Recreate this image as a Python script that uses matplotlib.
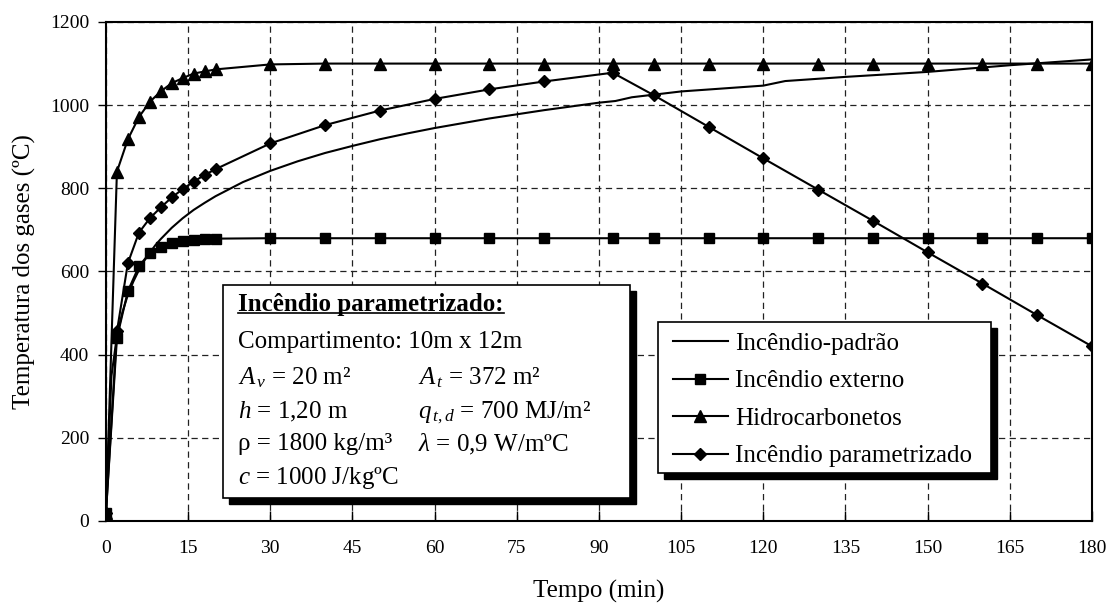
import matplotlib
matplotlib.use("Agg")
import matplotlib.pyplot as plt
from matplotlib.patches import Rectangle
from matplotlib.lines import Line2D
from matplotlib.transforms import offset_copy, IdentityTransform

plt.rcParams["font.family"] = ["Liberation Serif", "DejaVu Serif"]
plt.rcParams["mathtext.fontset"] = "custom"
plt.rcParams["mathtext.rm"] = "Liberation Serif"
plt.rcParams["mathtext.it"] = "Liberation Serif:italic"
plt.rcParams["mathtext.bf"] = "Liberation Serif:bold"

# Curva padrão (sem marcadores)
t_padrao = [0, 1, 2, 3, 4, 5, 6, 7, 8, 9, 10, 12, 14, 16, 18, 20, 25, 30, 35, 40,
            45, 50, 55, 60, 70, 80, 90, 93, 96, 105, 120, 124, 135, 150, 165, 180]
T_padrao = [20, 349, 445, 502, 544, 576, 603, 626, 645, 663, 678, 705, 728, 748, 765,
            781, 815, 842, 865, 885, 902, 918, 932, 945, 968, 988, 1006, 1010, 1019,
            1033, 1047, 1058, 1068, 1080, 1096, 1110]

# Instantes com marcadores
t_min = [0, 2, 4, 6, 8, 10, 12, 14, 16, 18, 20, 30, 40, 50, 60, 70, 80, 92.5,
         100, 110, 120, 130, 140, 150, 160, 170, 180]
T_externo = [20, 440, 553, 612, 645, 660, 668, 673, 676, 678, 679, 680, 680, 680,
             680, 680, 680, 680, 680, 680, 680, 680, 680, 680, 680, 680, 680]
T_hidro = [20, 840, 918, 971, 1008, 1033, 1053, 1065, 1076, 1081, 1086, 1098, 1100,
           1100, 1100, 1100, 1100, 1100, 1100, 1100, 1100, 1100, 1100, 1100, 1100,
           1100, 1100]
T_param = [20, 456, 620, 693, 728, 754, 778, 798, 816, 832, 846, 908, 952, 987, 1015,
           1038, 1057, 1078, 1024, 948, 872, 797, 722, 646, 571, 495, 420]

nomes = ["Incêndio-padrão", "Incêndio externo", "Hidrocarbonetos",
         "Incêndio parametrizado"]
x_ticks = list(range(0, 181, 15))
y_ticks = list(range(0, 1201, 200))

fig = plt.figure(figsize=(11.12, 6.06), dpi=100)
ax = fig.add_axes([0.0953, 0.1403, 0.8867, 0.8234])

lw = 1.5
ax.plot(t_padrao, T_padrao, color="black", lw=lw, label=nomes[0], zorder=3)
ax.plot(t_min, T_externo, color="black", lw=lw, marker="s", ms=7, label=nomes[1], zorder=3)
ax.plot(t_min, T_hidro, color="black", lw=lw, marker="^", ms=8.5, label=nomes[2], zorder=3)
ax.plot(t_min, T_param, color="black", lw=lw, marker="D", ms=6.5, label=nomes[3], zorder=3)

ax.set_xlim(0, 180)
ax.set_ylim(0, 1200)
ax.set_xticks(x_ticks)
ax.set_yticks(y_ticks)
ax.tick_params(axis="x", direction="in", length=7, width=1, labelsize=14, pad=14)
ax.tick_params(axis="y", direction="out", length=6, width=1, labelsize=14, pad=6)
for s in ax.spines.values():
    s.set_linewidth(1.5)
ax.grid(True, color="#222222", lw=0.9, linestyle=(0, (5, 3.5)), zorder=0)
ax.set_axisbelow(True)

ax.set_xlabel("Tempo (min)", fontsize=18, labelpad=16)
ax.set_ylabel("Temperatura dos gases (ºC)", fontsize=18, labelpad=10)

sombra_tr = offset_copy(ax.transAxes, fig=fig, x=6, y=-6, units="dots")


def caixa(x0, x1, y0, y1, z):
    ax.add_patch(Rectangle((x0, y0), x1 - x0, y1 - y0, transform=sombra_tr,
                           facecolor="black", edgecolor="black", zorder=z,
                           clip_on=False))
    ax.add_patch(Rectangle((x0, y0), x1 - x0, y1 - y0, transform=ax.transAxes,
                           facecolor="white", edgecolor="black", lw=1.2,
                           zorder=z + 0.1, clip_on=False))


# Quadro com os dados do incêndio parametrizado
caixa(0.1184, 0.5314, 0.046, 0.473, 5)

cx1, cx2 = 0.1339, 0.3164
rows = [0.4389, 0.3627, 0.2926, 0.2244, 0.1583, 0.0922]
fs = 18
kw = dict(transform=ax.transAxes, fontsize=fs, va="center_baseline", zorder=7)
titulo = ax.text(cx1, rows[0], "Incêndio parametrizado:", fontweight="bold", **kw)
ax.text(cx1, rows[1], "Compartimento: 10m x 12m", **kw)
ax.text(cx1, rows[2], r"$A_{\,v}$ = 20 m²", **kw)
ax.text(cx2, rows[2], r"$A_{\,t}$ = 372 m²", **kw)
ax.text(cx1, rows[3], r"$h$ = 1,20 m", **kw)
ax.text(cx2, rows[3], r"$q_{\,t,d}$ = 700 MJ/m²", **kw)
ax.text(cx1, rows[4], "ρ = 1800 kg/m³", **kw)
ax.text(cx2, rows[4], r"$\lambda$ = 0,9 W/mºC", **kw)
ax.text(cx1, rows[5], r"$c$ = 1000 J/kgºC", **kw)

# Legenda com moldura e sombra
caixa(0.5598, 0.8976, 0.0962, 0.3988, 7.5)
leg = ax.legend(loc="upper left", bbox_to_anchor=(0.575, 0.378), borderaxespad=0,
                fontsize=18, frameon=False, handlelength=2.2, handletextpad=0.3,
                labelspacing=0.6, borderpad=0)
leg.set_zorder(9)

fig.canvas.draw()
# sublinhado do título do quadro
tb = titulo.get_window_extent()
fig.add_artist(Line2D([tb.x0, tb.x1], [tb.y0 + 2.5, tb.y0 + 2.5],
                      transform=IdentityTransform(), color="black", lw=1.2,
                      zorder=10))

fig.savefig("out.png", dpi=100)
